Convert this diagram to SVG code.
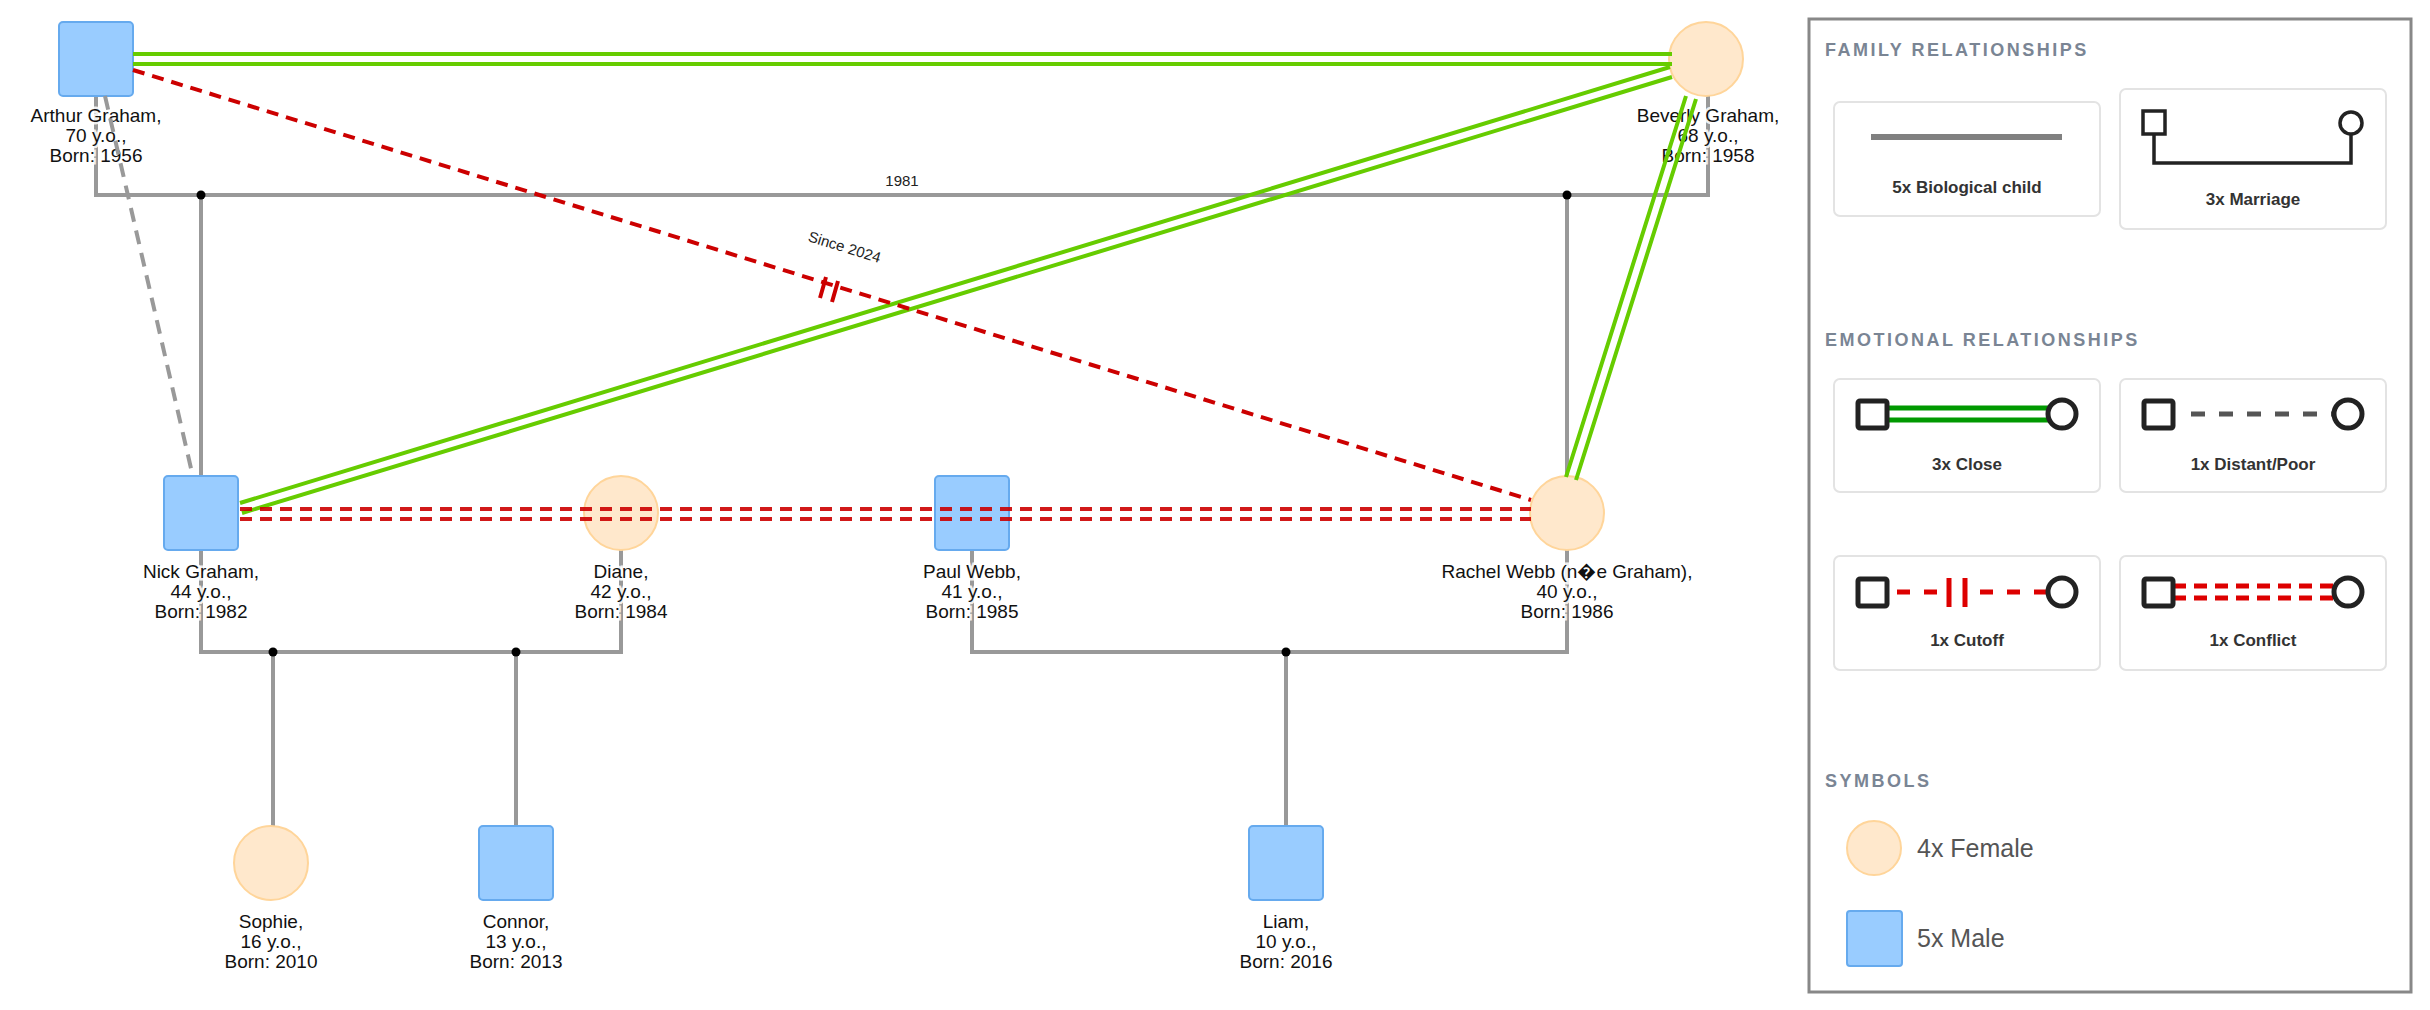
<svg xmlns="http://www.w3.org/2000/svg" width="2430" height="1010" viewBox="0 0 2430 1010">
<style>
.m{fill:#99ccff;stroke:#66aaee;stroke-width:2}
.f{fill:#ffe8cc;stroke:#ffd59a;stroke-width:2}
.fam{stroke:#999;stroke-width:4;fill:none}
.lbl{font-family:"Liberation Sans",Arial,sans-serif;font-size:19px;fill:#111;text-anchor:middle;stroke:#fff;stroke-width:5;stroke-opacity:0.85;paint-order:stroke}
.g{stroke:#66cc00;stroke-width:4;fill:none}
.r{stroke:#cc0000;stroke-width:4;fill:none;stroke-dasharray:12 8}
.card{fill:#fff;stroke:#e3e3e3;stroke-width:2}
.h{font-family:"Liberation Sans",Arial,sans-serif;font-size:18px;font-weight:bold;fill:#7a8594;letter-spacing:2.5px}
.ct{font-family:"Liberation Sans",Arial,sans-serif;font-size:17px;font-weight:bold;fill:#333;text-anchor:middle}
.ic{fill:#fff;stroke:#222;stroke-width:5}
.st{font-family:"Liberation Sans",Arial,sans-serif;font-size:25px;fill:#555}
</style>
<rect width="2430" height="1010" fill="#fff"/>
<g id="connectors">
<path class="fam" d="M96 96V195H1708V96"/>
<path class="fam" d="M201 195V476M1567 195V476"/>
<path class="fam" d="M201 550V652H621V550M972 550V652H1567V550"/>
<path class="fam" d="M273 652V826M516 652V826M1286 652V826"/>
<circle cx="201" cy="195" r="4.5"/><circle cx="1567" cy="195" r="4.5"/>
<circle cx="273" cy="652" r="4.5"/><circle cx="516" cy="652" r="4.5"/><circle cx="1286" cy="652" r="4.5"/>
<text x="902" y="186" font-family="Liberation Sans,Arial,sans-serif" font-size="15" fill="#222" text-anchor="middle">1981</text>
</g>
<g id="arthur"><rect class="m" x="59" y="22" width="74" height="74" rx="4"/><text class="lbl" x="96"><tspan x="96" y="122">Arthur Graham,</tspan><tspan x="96" y="142">70 y.o.,</tspan><tspan x="96" y="162">Born: 1956</tspan></text></g>
<g id="beverly"><circle class="f" cx="1706" cy="59" r="37"/><text class="lbl"><tspan x="1708" y="122">Beverly Graham,</tspan><tspan x="1708" y="142">68 y.o.,</tspan><tspan x="1708" y="162">Born: 1958</tspan></text></g>
<g id="nick"><rect class="m" x="164" y="476" width="74" height="74" rx="4"/><text class="lbl"><tspan x="201" y="578">Nick Graham,</tspan><tspan x="201" y="598">44 y.o.,</tspan><tspan x="201" y="618">Born: 1982</tspan></text></g>
<g id="diane"><circle class="f" cx="621" cy="513" r="37"/><text class="lbl"><tspan x="621" y="578">Diane,</tspan><tspan x="621" y="598">42 y.o.,</tspan><tspan x="621" y="618">Born: 1984</tspan></text></g>
<g id="paul"><rect class="m" x="935" y="476" width="74" height="74" rx="4"/><text class="lbl"><tspan x="972" y="578">Paul Webb,</tspan><tspan x="972" y="598">41 y.o.,</tspan><tspan x="972" y="618">Born: 1985</tspan></text></g>
<g id="rachel"><circle class="f" cx="1567" cy="513" r="37"/><text class="lbl"><tspan x="1567" y="578">Rachel Webb (n�e Graham),</tspan><tspan x="1567" y="598">40 y.o.,</tspan><tspan x="1567" y="618">Born: 1986</tspan></text></g>
<g id="sophie"><circle class="f" cx="271" cy="863" r="37"/><text class="lbl"><tspan x="271" y="928">Sophie,</tspan><tspan x="271" y="948">16 y.o.,</tspan><tspan x="271" y="968">Born: 2010</tspan></text></g>
<g id="connor"><rect class="m" x="479" y="826" width="74" height="74" rx="4"/><text class="lbl"><tspan x="516" y="928">Connor,</tspan><tspan x="516" y="948">13 y.o.,</tspan><tspan x="516" y="968">Born: 2013</tspan></text></g>
<g id="liam"><rect class="m" x="1249" y="826" width="74" height="74" rx="4"/><text class="lbl"><tspan x="1286" y="928">Liam,</tspan><tspan x="1286" y="948">10 y.o.,</tspan><tspan x="1286" y="968">Born: 2016</tspan></text></g>
<g id="emotional-connectors">
<path class="g" d="M133 54H1672M133 64H1672"/>
<path class="g" d="M240 503L1670 67M242 513L1672 77"/>
<path class="g" d="M1686 96L1566 477M1696 99L1576 480"/>
<path d="M105 96L193 477" stroke="#999" stroke-width="4" stroke-dasharray="14 9"/>
<path class="r" d="M133 70L1531 500"/>
<path d="M826 277L820 298M838 281L832 302" stroke="#cc0000" stroke-width="4"/>
<text x="843" y="252" transform="rotate(17.1 843 252)" font-family="Liberation Sans,Arial,sans-serif" font-size="15" fill="#222" text-anchor="middle">Since 2024</text>
<path class="r" d="M240 509H1531M240 519H1531" stroke-opacity="0.9"/>
</g>
<g id="legend">
<rect x="1809" y="19" width="602" height="973" fill="#fff" stroke="#888" stroke-width="3"/>
<text class="h" x="1825" y="56">FAMILY RELATIONSHIPS</text>
<rect class="card" x="1834" y="102" width="266" height="114" rx="6"/>
<path d="M1871 137H2062" stroke="#808080" stroke-width="6"/>
<text class="ct" x="1967" y="193">5x Biological child</text>
<rect class="card" x="2120" y="89" width="266" height="140" rx="6"/>
<path d="M2154 134V163H2351V134" stroke="#222" stroke-width="3.5" fill="none"/>
<rect x="2143" y="111" width="22" height="23" fill="#fff" stroke="#222" stroke-width="3.5"/>
<circle cx="2351" cy="123" r="11" fill="#fff" stroke="#222" stroke-width="3.5"/>
<text class="ct" x="2253" y="205">3x Marriage</text>
<text class="h" x="1825" y="346">EMOTIONAL RELATIONSHIPS</text>
<rect class="card" x="1834" y="379" width="266" height="113" rx="6"/>
<path d="M1887 408H2050M1887 420H2050" stroke="#009900" stroke-width="5"/>
<rect class="ic" x="1858" y="401" width="29" height="27" rx="2"/><circle class="ic" cx="2062" cy="414" r="14"/>
<text class="ct" x="1967" y="470">3x Close</text>
<rect class="card" x="2120" y="379" width="266" height="113" rx="6"/>
<path d="M2191 414H2334" stroke="#555" stroke-width="5" stroke-dasharray="14 14"/>
<rect class="ic" x="2144" y="401" width="29" height="27" rx="2"/><circle class="ic" cx="2348" cy="414" r="14"/>
<text class="ct" x="2253" y="470">1x Distant/Poor</text>
<rect class="card" x="1834" y="556" width="266" height="114" rx="6"/>
<path d="M1897 592H1940M1980 592H2050" stroke="#dd0000" stroke-width="5" stroke-dasharray="13 14"/>
<path d="M1949 578V607M1965 578V607" stroke="#dd0000" stroke-width="5"/>
<rect class="ic" x="1858" y="579" width="29" height="27" rx="2"/><circle class="ic" cx="2062" cy="592" r="14"/>
<text class="ct" x="1967" y="646">1x Cutoff</text>
<rect class="card" x="2120" y="556" width="266" height="114" rx="6"/>
<path d="M2173 586H2334M2173 598H2334" stroke="#dd0000" stroke-width="5" stroke-dasharray="13 8"/>
<rect class="ic" x="2144" y="579" width="29" height="27" rx="2"/><circle class="ic" cx="2348" cy="592" r="14"/>
<text class="ct" x="2253" y="646">1x Conflict</text>
<text class="h" x="1825" y="787">SYMBOLS</text>
<circle class="f" cx="1874" cy="848" r="27"/>
<text class="st" x="1917" y="857">4x Female</text>
<rect class="m" x="1847" y="911" width="55" height="55" rx="3"/>
<text class="st" x="1917" y="947">5x Male</text>
</g>
</svg>
